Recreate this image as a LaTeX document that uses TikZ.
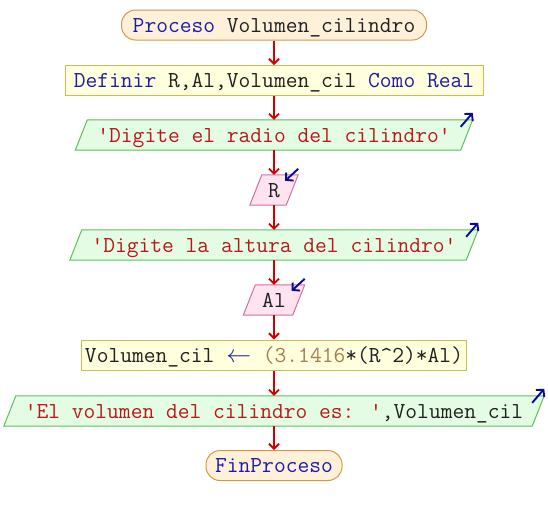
\documentclass[tikz,border=0pt]{standalone}
\usepackage{fontspec}
\usetikzlibrary{arrows.meta,backgrounds}
\definecolor{kw}{HTML}{1C1CA8}
\definecolor{vartxt}{HTML}{202020}
\definecolor{strtxt}{HTML}{B81818}
\definecolor{numtxt}{HTML}{A08050}
\definecolor{termfill}{HTML}{FFF0DA}
\definecolor{termdraw}{HTML}{D09A48}
\definecolor{procfill}{HTML}{FFFFDD}
\definecolor{procdraw}{HTML}{C8C050}
\definecolor{outfill}{HTML}{E4FCE4}
\definecolor{outdraw}{HTML}{5CC05C}
\definecolor{infill}{HTML}{FFE4F0}
\definecolor{indraw}{HTML}{D070A0}
\definecolor{flowred}{HTML}{D00000}
\definecolor{cornerblue}{HTML}{0A0A9A}
\newcommand\paragram[2]{%
  \filldraw[#2] ([xshift=6pt]#1.north west) -- ([xshift=6pt]#1.north east)
    -- ([xshift=-6pt]#1.south east) -- ([xshift=-6pt]#1.south west) -- cycle;}
\begin{document}
\begin{tikzpicture}[x=1pt,y=-1pt,
  font=\ttfamily\fontsize{22.86}{26}\selectfont,
  base/.style={inner sep=0pt, minimum height=30pt, text height=17pt, text depth=3pt, text=vartxt},
  term/.style={base, draw=termdraw, fill=termfill, line width=1pt, rounded corners=14pt},
  proc/.style={base, draw=procdraw, fill=procfill, line width=1pt},
  io/.style={base},
  flow/.style={draw=flowred, line width=1.8pt, -{Straight Barb[length=5pt,width=10pt]}},
  corner/.style={draw=cornerblue, line width=1.9pt, -{Straight Barb[length=5pt,width=11pt]}}
]
\useasboundingbox (0,0) rectangle (548,515);

\node[term, minimum width=305] (start) at (274,25) {{\color{kw}Proceso} Volumen\_cilindro};
\node[proc, minimum width=418] (def) at (274,80.5) {{\color{kw}Definir} R,Al,Volumen\_cil {\color{kw}Como Real}};
\node[io, minimum width=385] (o1) at (274,135) {\color{strtxt}'Digite el radio del cilindro'};
\node[io, minimum width=36] (r) at (274,190) {R};
\node[io, minimum width=396] (o2) at (274,245) {\color{strtxt}'Digite la altura del cilindro'};
\node[io, minimum width=49] (al) at (274,300) {Al};
\node[proc, minimum width=385] (asg) at (274,355) {Volumen\_cil {\color{kw}$\leftarrow$} {\color{numtxt}(3.1416}*(R\textasciicircum2)*Al)};
\node[io, minimum width=528] (o3) at (274,411) {{\color{strtxt}'El volumen del cilindro es: '},Volumen\_cil};
\node[term, minimum width=136] (end) at (274,465.5) {{\color{kw}FinProceso}};

\begin{scope}[on background layer]
  \paragram{o1}{fill=outfill, draw=outdraw, line width=1pt}
  \paragram{o2}{fill=outfill, draw=outdraw, line width=1pt}
  \paragram{o3}{fill=outfill, draw=outdraw, line width=1pt}
  \paragram{r}{fill=infill, draw=indraw, line width=1pt}
  \paragram{al}{fill=infill, draw=indraw, line width=1pt}
\end{scope}

\draw[flow] (start) -- (def);
\draw[flow] (def) -- (o1);
\draw[flow] (o1) -- (r);
\draw[flow] (r) -- (o2);
\draw[flow] (o2) -- (al);
\draw[flow] (al) -- (asg);
\draw[flow] (asg) -- (o3);
\draw[flow] (o3) -- (end);

\draw[corner] ([shift={(-6,7)}]o1.north east) -- ([shift={(6,-7)}]o1.north east);
\draw[corner] ([shift={(-6,7)}]o2.north east) -- ([shift={(6,-7)}]o2.north east);
\draw[corner] ([shift={(-6,7)}]o3.north east) -- ([shift={(6,-7)}]o3.north east);
\draw[corner] ([shift={(6,-6)}]r.north east) -- ([shift={(-7,6)}]r.north east);
\draw[corner] ([shift={(6,-6)}]al.north east) -- ([shift={(-7,6)}]al.north east);
\end{tikzpicture}
\end{document}
